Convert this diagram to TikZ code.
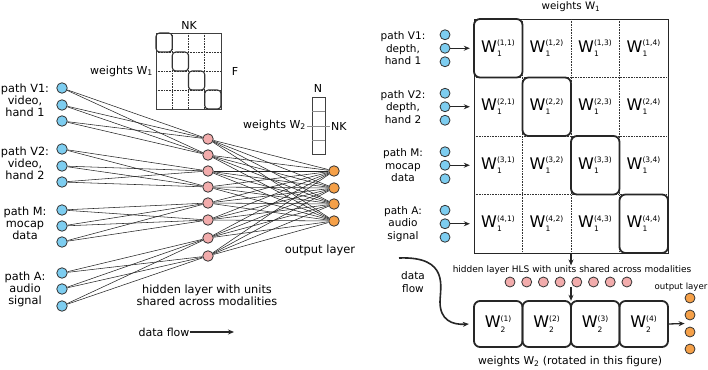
\documentclass[tikz,border=0pt]{standalone}
\usepackage{fontspec}
\setmainfont{DejaVu Sans}
\usetikzlibrary{arrows.meta, positioning, calc}
\definecolor{inblue}{RGB}{125,205,240}
\definecolor{hidpink}{RGB}{242,172,172}
\definecolor{outorange}{RGB}{245,160,72}
\newcommand{\wcell}[2]{W$^{\mbox{\fontsize{7.5}{8}\selectfont(#1)}}_{\mbox{\fontsize{7.5}{8}\selectfont#2}}$}
\tikzset{
  unit/.style={
    circle, draw=black!80, line width=0.8pt,
    inner sep=0pt, minimum size=10.5pt
  },
  inunit/.style={unit, fill=inblue},
  hidunit/.style={unit, fill=hidpink},
  outunit/.style={unit, fill=outorange},
  link/.style={black!85, line width=0.55pt},
  gridline/.style={black!80, densely dotted, line width=0.6pt},
  blockbox/.style={
    draw=black!85, line width=1.8pt, rounded corners=6pt,
    minimum width=48.5pt, minimum height=58.5pt, inner sep=0pt,
    font=\fontsize{16}{16}\selectfont
  },
  smallbox/.style={
    draw=black!80, line width=1.1pt, rounded corners=3.5pt,
    minimum width=16.25pt, minimum height=19pt, inner sep=0pt
  },
  arrow/.style={-{Stealth[length=6pt, width=5pt]}, line width=1.3pt, black!85},
  pathlabel/.style={align=center, inner sep=0pt, font=\fontsize{11.3}{12}\selectfont},
  rpathlabel/.style={align=center, inner sep=0pt, font=\fontsize{10.5}{12.5}\selectfont},
  textlabel/.style={inner sep=0pt, font=\fontsize{11}{12}\selectfont},
  smalllabel/.style={inner sep=0pt, font=\fontsize{9}{10}\selectfont}
}
\begin{document}
\begin{tikzpicture}[x=1pt, y=-1pt]
  \useasboundingbox (0,0) rectangle (708,369);

  % Left: network units
  \foreach \y [count=\i] in {88,105,121,149,166,182,210,226,242,273,289,306}
    \node[inunit] (in\i) at (62,\y) {};
  \foreach \y [count=\i] in {139,155,171,187,203,220,238,256}
    \node[hidunit] (hid\i) at (208,\y) {};
  \foreach \y [count=\i] in {171,188,204,221}
    \node[outunit] (out\i) at (334,\y) {};

  % Left: connections
  \foreach \g in {1,...,4}
    \foreach \k in {1,2,3}
      \foreach \h in {1,2} {
        \pgfmathtruncatemacro\a{3*(\g-1)+\k}
        \pgfmathtruncatemacro\b{2*(\g-1)+\h}
        \draw[link] (in\a) -- (hid\b);
      }
  \foreach \h in {1,...,8}
    \foreach \o in {1,...,4}
      \draw[link] (hid\h) -- (out\o);

  % Left: path labels
  \node[pathlabel] (lv1) at (25,100) {path V1:\\video,\\hand 1};
  \node[pathlabel] (lv2) at (25,163) {path V2:\\video,\\hand 2};
  \node[pathlabel] (lm) at (25,223) {path M:\\mocap\\data};
  \node[pathlabel] (la) at (25,289) {path A:\\audio\\signal};

  % Left: weights W1 sketch
  \node[draw=black!75, line width=0.6pt, minimum width=65pt, minimum height=76pt,
    inner sep=0pt] (w1small) at (188.5,71) {};
  \foreach \x in {172.25,188.5,204.75}
    \draw[gridline] (\x,33) -- (\x,109);
  \foreach \y in {52,71,90}
    \draw[gridline] (156,\y) -- (221,\y);
  \foreach \i in {0,...,3}
    \node[smallbox] (sd\i) at ({164.125+16.25*\i},{42.5+19*\i}) {};
  \node[textlabel] (nklab) at (189,25) {NK};
  \node[textlabel] (flab) at (235,71) {F};
  \node[textlabel, anchor=east] (w1lab) at (153,71) {weights W\textsubscript{1}};

  % Left: weights W2 sketch
  \node[draw=black!75, line width=0.6pt, minimum width=13pt, minimum height=57pt,
    inner sep=0pt] (w2col) at (318.5,125.5) {};
  \draw[black!45, line width=0.6pt] (312,111) -- (325,111);
  \draw[black!45, line width=0.6pt] (312,140) -- (325,140);
  \draw[black!45, line width=0.6pt] (307,126) -- (330,126);
  \node[textlabel] (nlab) at (318,88) {N};
  \node[textlabel, anchor=west] (nk2lab) at (331,126) {NK};
  \node[textlabel, anchor=east] (w2lab) at (306,125) {weights W\textsubscript{2}};

  \node[textlabel, font=\fontsize{11.5}{12}\selectfont] (outlab) at (320,250) {output layer};
  \node[pathlabel, font=\fontsize{11.3}{12}\selectfont] (hidlab) at (207,295)
    {hidden layer with units\\shared across modalities};
  \node[textlabel] (dflow) at (164,332) {data flow};
  \coordinate (dflowend) at (234,332);
  \draw[arrow] (dflow.east) -- (dflowend);

  % Right: weights W1 matrix
  \node[textlabel, font=\fontsize{10.3}{11}\selectfont] (bigw1lab) at (571,7) {weights W\textsubscript{1}};
  \node[draw=black!85, line width=0.8pt, minimum width=194pt, minimum height=234pt,
    inner sep=0pt] (w1big) at (571,136) {};
  \foreach \x in {522.5,571,619.5}
    \draw[gridline] (\x,19) -- (\x,253);
  \foreach \y in {77.5,136,194.5}
    \draw[gridline] (474,\y) -- (668,\y);
  \foreach \r in {1,...,4}
    \foreach \c in {1,...,4}
      \node[inner sep=0pt, font=\fontsize{16}{16}\selectfont] (c\r\c)
        at ({474+48.5*(\c-0.5)},{19+58.5*(\r-0.5)}) {\wcell{\r,\c}{1}};
  \foreach \i in {1,...,4}
    \node[blockbox] (diag\i) at (c\i\i) {};

  % Right: input paths
  \foreach \r/\yc/\txt in {1/48.25/{path V1:\\depth,\\hand 1},
                           2/106.75/{path V2:\\depth,\\hand 2},
                           3/165.25/{path M:\\mocap\\data},
                           4/223.75/{path A:\\audio\\signal}} {
    \node[rpathlabel] (rl\r) at (403,\yc) {\txt};
    \node[inunit, minimum size=10pt] (rt\r) at (445,{\yc-13.5}) {};
    \node[inunit, minimum size=10pt] (rm\r) at (445,\yc) {};
    \node[inunit, minimum size=10pt] (rb\r) at (445,{\yc+13.5}) {};
    \node[minimum width=194pt, minimum height=58.5pt, inner sep=0pt] (row\r) at (571,\yc) {};
    \draw[arrow] (rm\r) -- ([xshift=-4pt]row\r.west);
  }

  % Right: shared hidden layer
  \node[smalllabel] (hlslab) at (572,270) {hidden layer HLS with units shared across modalities};
  \draw[arrow] (w1big.south) -- (w1big.south |- hlslab.north);
  \foreach \i in {1,...,8}
    \node[hidunit, minimum size=10pt] (hls\i) at ({510+16.7*(\i-1)},282) {};

  % Right: weights W2 row
  \node[minimum width=194pt, minimum height=46pt, inner sep=0pt] (w2row) at (571,324) {};
  \foreach \k in {1,...,4}
    \node[blockbox, minimum height=46pt] (w2b\k) at ({474+48.5*(\k-0.5)},324)
      {\wcell{\k}{2}};
  \draw[arrow] (w2row.north |- hls4.south) -- (w2row.north);
  \node[textlabel, font=\fontsize{10.8}{11}\selectfont] (w2rowlab) at (570,362)
    {weights W\textsubscript{2} (rotated in this figure)};

  % Right: output layer
  \foreach \y [count=\i] in {298,315,332,349}
    \node[outunit, minimum size=10pt] (ro\i) at (690,\y) {};
  \node[smalllabel, font=\fontsize{8.6}{10}\selectfont] (rolab) at (681,287) {output layer};
  \draw[arrow] (w2row.east) -- ($(ro2.west)!0.5!(ro3.west)$);

  % Right: data flow curve
  \node[rpathlabel] (rflow) at (413,282) {data\\flow};
  \coordinate (flowstart) at (399,258);
  \draw[arrow, line width=1.6pt] (flowstart) .. controls (450,256) and (440,288) .. (440,302)
    .. controls (440,320) and (452,325) .. ([xshift=-5pt]w2row.west);
\end{tikzpicture}
\end{document}
